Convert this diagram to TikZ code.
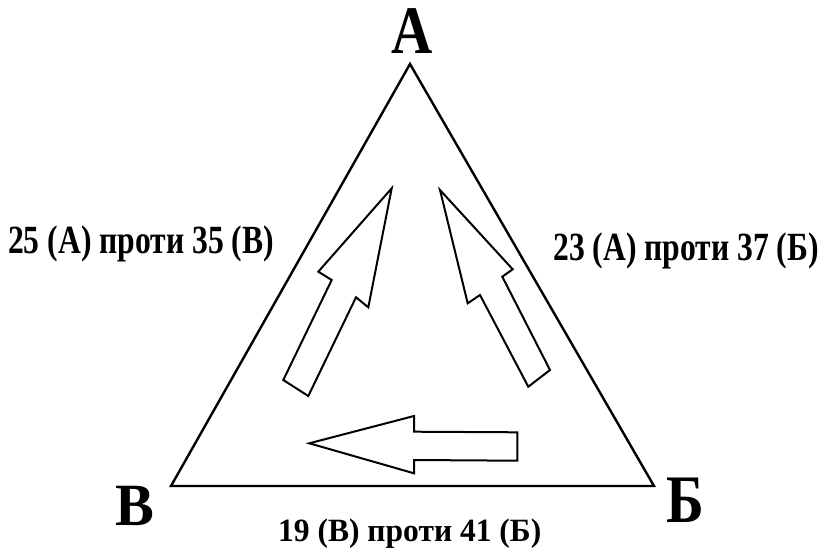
\documentclass[tikz,border=0pt]{standalone}
\usepackage{fontspec}
\setmainfont{Liberation Serif}
\newfontfamily\labfont[FakeStretch=0.79]{Liberation Serif}
\newfontfamily\botfont[FakeStretch=0.97]{Liberation Serif}
\newfontfamily\bigfont[FakeStretch=0.84]{Liberation Serif}
\begin{document}
\begin{tikzpicture}[x=1pt,y=-1pt,
  tri/.style={draw=black,line width=2.4pt,line join=miter},
  bigarrow/.style={draw=black,line width=2pt,line join=miter,fill=white},
  lab/.style={inner sep=0pt,anchor=base west,font=\labfont\bfseries\fontsize{40}{40}\selectfont},
  botlab/.style={inner sep=0pt,anchor=base west,font=\botfont\bfseries\fontsize{32.5}{32.5}\selectfont},
  vert/.style={inner sep=0pt,anchor=base,font=\bigfont\bfseries\fontsize{68}{68}\selectfont}]
\useasboundingbox (0,0) rectangle (823,552);
\fill[white] (0,0) rectangle (823,552);
% triangle vertices
\coordinate (vA) at (410,64);
\coordinate (vB) at (171,486);
\coordinate (vC) at (654,486);
\draw[tri] (vA) -- (vB) -- (vC) -- cycle;
% left arrow
\draw[bigarrow] (391.7,188.3) -- (318.3,271.7) -- (331.7,280) -- (283.3,380)
  -- (308.3,396) -- (356,297.3) -- (368.3,307.3) -- cycle;
% right arrow
\draw[bigarrow] (440,190) -- (512.7,269.3) -- (502.3,276.7) -- (550,370)
  -- (528.3,386.7) -- (480,295) -- (467.7,303.3) -- cycle;
% bottom arrow
\draw[bigarrow] (309.3,443.3) -- (414,416) -- (414,431.7) -- (517.3,432.3)
  -- (517.3,460.7) -- (414,460) -- (414,473.3) -- cycle;
% vertex letters
\node[vert] (lA) at (412.5,53) {А};
\node[vert,font=\botfont\bfseries\fontsize{60}{60}\selectfont] (lB) at (135,525) {В};
\node[vert] (lC) at (685,522) {Б};
% edge labels
\node[lab] (l1) at (8,253) {25 (А) проти 35 (В)};
\node[lab] (l2) at (553,260) {23 (А) проти 37 (Б)};
\node[botlab] (l3) at (278,541.7) {19 (В) проти 41 (Б)};
\end{tikzpicture}
\end{document}
